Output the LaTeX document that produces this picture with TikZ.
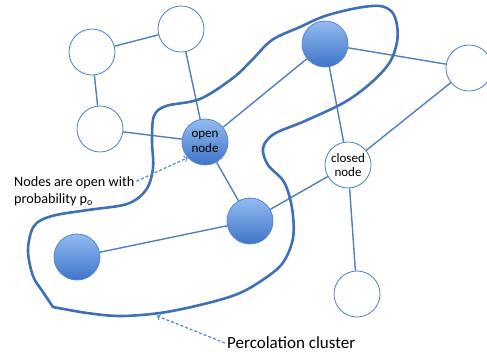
\documentclass[tikz,border=0pt]{standalone}
\usepackage{fontspec}
\setmainfont{Carlito}
\definecolor{edgeblue}{HTML}{4F7FBE}
\definecolor{linkblue}{HTML}{3F70B5}
\definecolor{hintblue}{HTML}{5B8AD0}
\definecolor{topfill}{HTML}{93BBEF}
\definecolor{botfill}{HTML}{3F74C9}
\begin{document}
\begin{tikzpicture}[x=1pt, y=-1pt,
    site/.style={circle, draw=edgeblue, line width=0.8pt, minimum size=46pt, inner sep=0pt,
      align=center, font=\fontsize{13}{14.5}\selectfont},
    opensite/.style={site, draw=hintblue!80!botfill, top color=topfill, bottom color=botfill},
    bond/.style={edgeblue, line width=1.4pt},
    cluster/.style={linkblue, line width=2.6pt, line join=round},
    hint/.style={hintblue, line width=1.3pt, dash pattern=on 3pt off 2pt, ->}]
    \useasboundingbox (0,0) rectangle (487,352);
    \node [site] (topleft) at (92,52) {};
    \node [site] (top) at (181,29) {};
    \node [site] (left) at (100,129) {};
    \node [opensite] (open) at (205,142) {open\\node};
    \node [opensite] (upper) at (325,44) {};
    \node [site] (right) at (469,68) {};
    \node [site] (closed) at (348,165) {closed\\node};
    \node [opensite] (middle) at (250,221) {};
    \node [opensite] (lower) at (77,257) {};
    \node [site] (bottom) at (357,294) {};
    \draw [bond] (topleft) -- (top);
    \draw [bond] (topleft) -- (left);
    \draw [bond] (top) -- (open);
    \draw [bond] (left) -- (open);
    \draw [bond] (open) -- (upper);
    \draw [bond] (open) -- (middle);
    \draw [bond] (upper) -- (right);
    \draw [bond] (upper) -- (closed);
    \draw [bond] (right) -- (closed);
    \draw [bond] (closed) -- (middle);
    \draw [bond] (middle) -- (lower);
    \draw [bond] (closed) -- (bottom);
    % percolation cluster outline
    \draw [cluster] plot [smooth, tension=0.55] coordinates {(53,307) (43,292) (33,276) (28,250)
      (34,226) (52,216) (88,210) (127,204) (146,190) (153,168) (152,140) (154,116) (166,106)
      (200,99) (233,78) (252,60) (272,40) (300,27) (325,16) (357,8) (380,6) (392,12) (397,25)
      (397,42) (390,62) (372,82) (345,102) (305,121) (274,134) (263,148) (268,165) (284,182)
      (292,208) (293,238) (282,264) (258,283) (235,295) (200,305) (160,313) (120,316) (87,313)
      (53,307)} -- cycle;
    \coordinate (rim) at (157,316);
    \node [anchor=west, align=left, inner sep=2pt, font=\fontsize{14.2}{17}\selectfont] (notes) at (12,191)
      {Nodes are open with\\probability p\textsubscript{o}};
    \node [anchor=west, inner sep=2pt, font=\fontsize{17}{19}\selectfont] (perc) at (225,343) {Percolation cluster};
    \draw [hint] ([yshift=-7pt]notes.north east) -- (open.222);
    \draw [hint] (perc.west) -- (rim);
  \end{tikzpicture}
\end{document}
